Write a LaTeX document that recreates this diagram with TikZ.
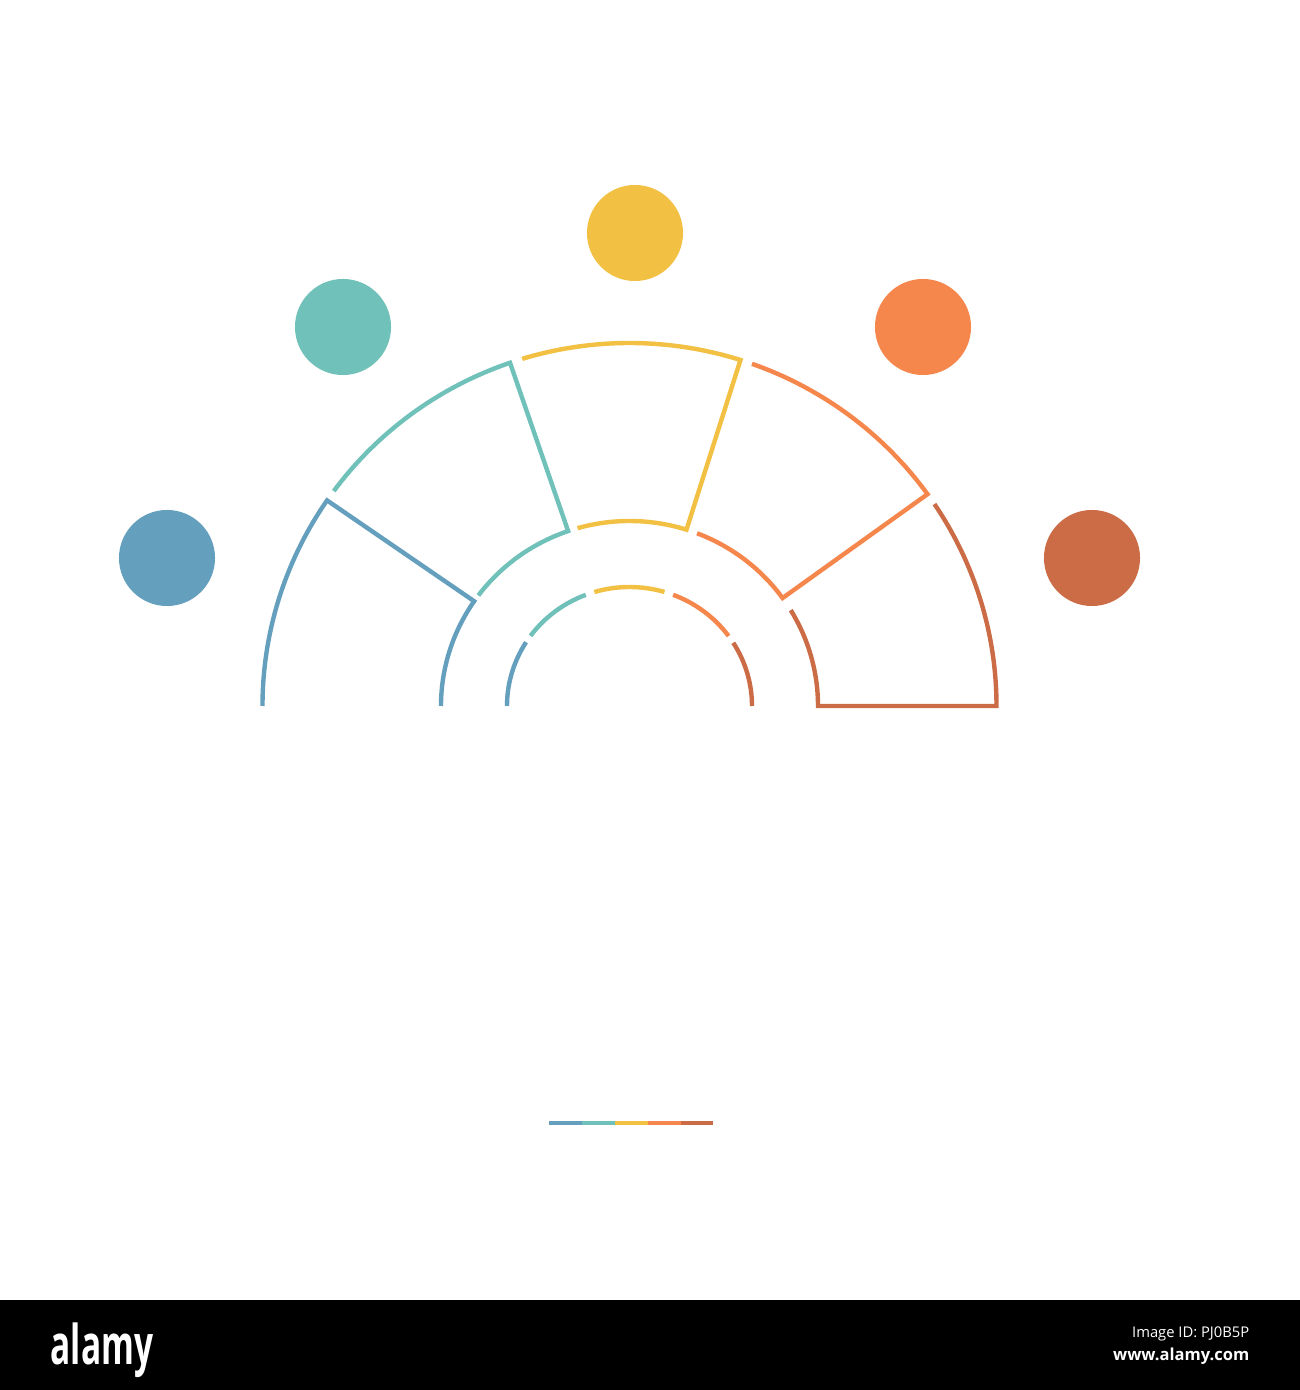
\documentclass[tikz,border=0pt]{standalone}
\usepackage{fontspec}
\setmainfont{Open Sans}
\usepackage{graphicx}
\definecolor{cblue}{HTML}{649FBE}
\definecolor{cteal}{HTML}{70C1B9}
\definecolor{cyellow}{HTML}{F2C042}
\definecolor{corange}{HTML}{F5874D}
\definecolor{cred}{HTML}{CB6C46}

\begin{document}
\begin{tikzpicture}[x=0.01cm, y=0.01cm,
    dot/.style={circle, minimum size=0.96cm, inner sep=0pt, draw=none},
    seg/.style={line width=1.25pt},
    wmtext/.style={text=white, inner sep=0pt}]
    % Canvas
    \fill[white] (0,0) rectangle (1300,1390);
    \useasboundingbox (0,0) rectangle (1300,1390);

    % Half ring, centre (629.5,684)
    \begin{scope}[shift={(629.5,684)}]
    % Outer sectors
    \draw[seg, cblue] (180:367 and 363) arc[start angle=180, end angle=145.5, x radius=367, y radius=363]
        -- (145.5:188.5 and 185) arc[start angle=145.5, end angle=180, x radius=188.5, y radius=185];
    \draw[seg, cteal] (143.7:367 and 363) arc[start angle=143.7, end angle=109, x radius=367, y radius=363]
        -- (109:188.5 and 185) arc[start angle=109, end angle=143.3, x radius=188.5, y radius=185];
    \draw[seg, cyellow] (107:367 and 363) arc[start angle=107, end angle=72.4, x radius=367, y radius=363]
        -- (72.4:188.5 and 185) arc[start angle=72.4, end angle=106, x radius=188.5, y radius=185];
    \draw[seg, corange] (70.5:367 and 363) arc[start angle=70.5, end angle=35.7, x radius=367, y radius=363]
        -- (35.7:188.5 and 185) arc[start angle=35.7, end angle=69, x radius=188.5, y radius=185];
    \draw[seg, cred] (33.8:367 and 363) arc[start angle=33.8, end angle=0, x radius=367, y radius=363]
        -- (0:188.5 and 185) arc[start angle=0, end angle=31.2, x radius=188.5, y radius=185];

    % Inner ring
    \draw[seg, cblue] (180:122.5 and 119) arc[start angle=180, end angle=147.6, x radius=122.5, y radius=119];
    \draw[seg, cteal] (143.9:122.5 and 119) arc[start angle=143.9, end angle=110.9, x radius=122.5, y radius=119];
    \draw[seg, cyellow] (106.7:122.5 and 119) arc[start angle=106.7, end angle=73.4, x radius=122.5, y radius=119];
    \draw[seg, corange] (69.1:122.5 and 119) arc[start angle=69.1, end angle=36, x radius=122.5, y radius=119];
    \draw[seg, cred] (32.1:122.5 and 119) arc[start angle=32.1, end angle=0, x radius=122.5, y radius=119];
    \end{scope}

    % Dots
    \node[dot, fill=cblue] (dot1) at (167,832) {};
    \node[dot, fill=cteal] (dot2) at (343,1063) {};
    \node[dot, fill=cyellow] (dot3) at (635,1157) {};
    \node[dot, fill=corange] (dot4) at (923,1063) {};
    \node[dot, fill=cred] (dot5) at (1092,832) {};

    % Colour bar
    \draw[line width=0.9pt, cblue] (549,267) -- (582,267);
    \draw[line width=0.9pt, cteal] (582,267) -- (615,267);
    \draw[line width=0.9pt, cyellow] (615,267) -- (648,267);
    \draw[line width=0.9pt, corange] (648,267) -- (681,267);
    \draw[line width=0.9pt, cred] (681,267) -- (713,267);

    % Footer
    \fill[black] (0,0) rectangle (1300,90);
    \node[wmtext, anchor=base west, font=\bfseries\fontsize{15.6}{16}\selectfont] (logo) at (50,25) {\scalebox{0.61}[1]{alamy}};
    \node[wmtext, anchor=base east, font=\fontsize{4.2}{5}\selectfont] (imgid) at (1250,52) {Image ID: PJ0B5P};
    \node[wmtext, anchor=base east, font=\bfseries\fontsize{4.7}{5}\selectfont] (site) at (1250,30) {www.alamy.com};
\end{tikzpicture}
\end{document}
